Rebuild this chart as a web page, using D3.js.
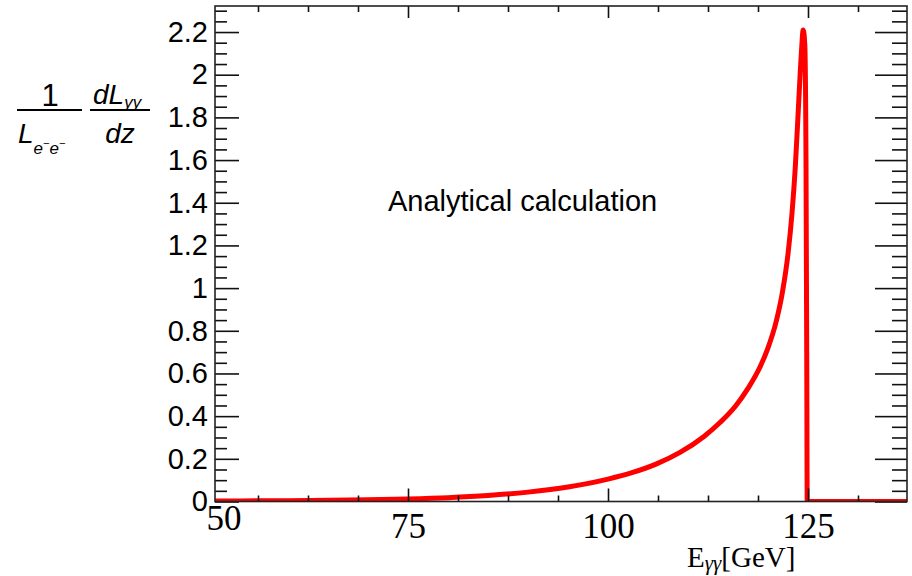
<!DOCTYPE html>
<html>
<head>
<meta charset="utf-8">
<script src="https://cdn.jsdelivr.net/npm/d3@7"></script>
<style>
  body { margin: 0; background: #fff; }
  svg { display: block; }
</style>
</head>
<body>
<div id="chart"></div>
<script>
// photon-photon luminosity spectrum
const energy = [50, 60, 70, 75, 80, 85, 90, 95, 100, 103, 106, 109, 112, 114, 116, 117.5,
  119, 120, 121, 121.8, 122.5, 123, 123.4, 123.7, 124, 124.2, 124.4, 124.6, 124.75, 124.85,
  124.9, 137.5];
const lumi = [0.002, 0.004, 0.008, 0.012, 0.018, 0.028, 0.044, 0.068, 0.105, 0.135, 0.175,
  0.23, 0.305, 0.37, 0.45, 0.53, 0.63, 0.72, 0.84, 0.98, 1.16, 1.35, 1.56, 1.77, 1.99, 2.12,
  2.21, 2.14, 1.6, 0.6, 0, 0];

const xMajor = [75, 100, 125];
const xFirstLabel = "50";
const yMajor = [0, 0.2, 0.4, 0.6, 0.8, 1, 1.2, 1.4, 1.6, 1.8, 2, 2.2];

const W = 912, H = 576;
const mLeft = 215, mRight = 907, mTop = 6, mBottom = 501.5;

const svg = d3.select("#chart").append("svg")
    .attr("width", W)
    .attr("height", H);

const x = d3.scaleLinear().domain([50.875, 137.375]).range([mLeft, mRight]);
const y = d3.scaleLinear().domain([0, 2.322]).range([mBottom, mTop]);

const xMinor = d3.range(56.25, 137.3, 6.25).filter(v => !xMajor.includes(v));
const yMinor = d3.range(0, 2.33, 0.05).map(v => +v.toFixed(2)).filter(v => !yMajor.some(m => Math.abs(m - v) < 1e-6));

// curve
svg.append("clipPath").attr("id", "clip")
  .append("rect")
    .attr("x", mLeft).attr("y", mTop - 2)
    .attr("width", mRight - mLeft).attr("height", mBottom - mTop + 2);

const line = d3.line()
    .x((d, i) => x(energy[i]))
    .y(d => y(d))
    .curve(d3.curveMonotoneX);

svg.append("path")
    .datum(lumi)
    .attr("clip-path", "url(#clip)")
    .attr("fill", "none")
    .attr("stroke", "#ff0000")
    .attr("stroke-width", 5)
    .attr("stroke-linejoin", "round")
    .attr("d", line);

// axes
function styleAxis(g) {
  g.select(".domain").remove();
  g.selectAll(".tick line").attr("stroke", "#111").attr("stroke-width", 1.6);
}

const serif = "'Liberation Serif', 'Times New Roman', serif";
const sans = "'Liberation Sans', Arial, sans-serif";

svg.append("g")
    .attr("transform", `translate(0,${mBottom})`)
    .call(d3.axisBottom(x).tickValues(xMajor).tickSize(-13).tickFormat(d3.format("d")))
    .call(styleAxis)
    .call(g => g.selectAll(".tick text")
        .attr("y", 36).attr("dy", null)
        .attr("fill", "#000")
        .style("font-family", serif).style("font-size", "35px"));

svg.append("g")
    .attr("transform", `translate(0,${mBottom})`)
    .call(d3.axisBottom(x).tickValues(xMinor).tickSize(-6).tickFormat(""))
    .call(styleAxis);

svg.append("g")
    .attr("transform", `translate(0,${mTop})`)
    .call(d3.axisTop(x).tickValues(xMajor).tickSize(-12).tickFormat(""))
    .call(styleAxis);

svg.append("g")
    .attr("transform", `translate(0,${mTop})`)
    .call(d3.axisTop(x).tickValues(xMinor).tickSize(-6).tickFormat(""))
    .call(styleAxis);

svg.append("g")
    .attr("transform", `translate(${mLeft},0)`)
    .call(d3.axisLeft(y).tickValues(yMajor).tickSize(-24).tickPadding(7)
        .tickFormat(d => String(+d.toFixed(1))))
    .call(styleAxis)
    .call(g => g.selectAll(".tick text")
        .attr("fill", "#000")
        .style("font-family", sans).style("font-size", "29px"));

svg.append("g")
    .attr("transform", `translate(${mLeft},0)`)
    .call(d3.axisLeft(y).tickValues(yMinor).tickSize(-12).tickFormat(""))
    .call(styleAxis);

svg.append("g")
    .attr("transform", `translate(${mRight},0)`)
    .call(d3.axisRight(y).tickValues(yMajor).tickSize(-32).tickFormat(""))
    .call(styleAxis);

svg.append("g")
    .attr("transform", `translate(${mRight},0)`)
    .call(d3.axisRight(y).tickValues(yMinor).tickSize(-15).tickFormat(""))
    .call(styleAxis);

// first x label is pushed inside the frame
svg.append("text")
    .attr("x", mLeft + 9).attr("y", 530)
    .attr("text-anchor", "middle")
    .style("font-family", serif).style("font-size", "35px")
    .text(xFirstLabel);

// frame
svg.append("rect")
    .attr("x", mLeft).attr("y", mTop)
    .attr("width", mRight - mLeft).attr("height", mBottom - mTop)
    .attr("fill", "none")
    .attr("stroke", "#222")
    .attr("stroke-width", 1.6);

// label inside
svg.append("text")
    .attr("x", 388).attr("y", 211)
    .style("font-family", sans).style("font-size", "29px")
    .text("Analytical calculation");

// x title
const xt = svg.append("text")
    .attr("x", 687).attr("y", 567)
    .style("font-family", serif).style("font-size", "29px");
xt.append("tspan").text("E");
xt.append("tspan").attr("dy", 3).style("font-style", "italic").style("font-size", "21px").text("γγ");
xt.append("tspan").attr("dy", -3).text("[GeV]");

// y title: (1 / L_ee) dL_γγ / dz
const yt = svg.append("g")
    .style("font-family", sans).style("font-size", "28px");

yt.append("text").attr("x", 50).attr("y", 106).attr("text-anchor", "middle")
    .style("font-size", "31px").text("1");
yt.append("line").attr("x1", 17).attr("x2", 82).attr("y1", 110).attr("y2", 110)
    .attr("stroke", "#000").attr("stroke-width", 1.8);
const den = yt.append("text").attr("x", 18).attr("y", 143).style("font-style", "italic");
den.append("tspan").text("L");
den.append("tspan").attr("dy", 11).style("font-size", "17px").text("e");
den.append("tspan").attr("dy", -7).style("font-size", "11px").text("−");
den.append("tspan").attr("dy", 7).style("font-size", "17px").text("e");
den.append("tspan").attr("dy", -7).style("font-size", "11px").text("−");

const num = yt.append("text").attr("x", 93).attr("y", 104).style("font-style", "italic");
num.append("tspan").text("dL");
num.append("tspan").attr("dy", 4).style("font-size", "17px").text("γγ");
yt.append("line").attr("x1", 90).attr("x2", 150).attr("y1", 110).attr("y2", 110)
    .attr("stroke", "#000").attr("stroke-width", 1.8);
yt.append("text").attr("x", 120).attr("y", 143).attr("text-anchor", "middle")
    .style("font-style", "italic").text("dz");
</script>
</body>
</html>
